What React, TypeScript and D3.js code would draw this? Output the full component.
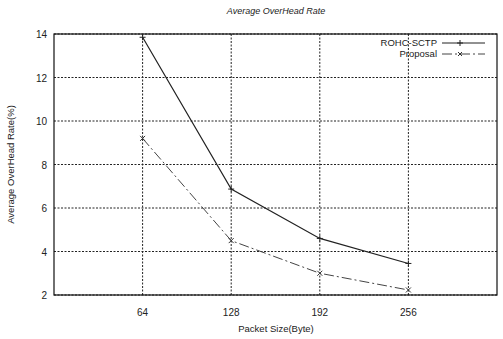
import React from 'react';
import * as d3 from 'd3';

const packetSizes = [64, 128, 192, 256];
const rohcSctp = [13.85, 6.87, 4.6, 3.45];
const proposal = [9.2, 4.5, 3.0, 2.23];
const yTicks = [2, 4, 6, 8, 10, 12, 14];

const width = 503;
const height = 339;
const margin = { top: 34, right: 6, bottom: 44, left: 54 };

export default function App() {
  const x = d3.scaleLinear().domain([0, 320]).range([margin.left, width - margin.right]);
  const y = d3.scaleLinear().domain([2, 14]).range([height - margin.bottom, margin.top]);

  const line = d3
    .line<number>()
    .x((d, i) => x(packetSizes[i]))
    .y((d) => y(d));

  const font = 'Liberation Sans, Arial, sans-serif';

  return (
    <svg
      width={width}
      height={height}
      style={{ position: 'absolute', left: 0, top: 0, background: '#fff' }}
      fontFamily={font}
    >
      <text x={276} y={14} textAnchor="middle" fontSize={9} fontStyle="italic" fill="#222">
        Average OverHead Rate
      </text>

      {/* grid */}
      {yTicks.map((t) => (
        <g key={'y' + t}>
          <line
            x1={x(0)}
            x2={x(320)}
            y1={y(t)}
            y2={y(t)}
            stroke="#222"
            strokeWidth={1}
            strokeDasharray="2,1.5"
          />
          <text x={47} y={y(t) + 4} textAnchor="end" fontSize={10} fill="#222">
            {t}
          </text>
        </g>
      ))}
      {packetSizes.map((t) => (
        <g key={'x' + t}>
          <line
            x1={x(t)}
            x2={x(t)}
            y1={y(2)}
            y2={y(14)}
            stroke="#222"
            strokeWidth={1}
            strokeDasharray="2,1.5"
          />
          <text x={x(t)} y={316} textAnchor="middle" fontSize={10} fill="#222">
            {t}
          </text>
        </g>
      ))}

      {/* frame */}
      <rect
        x={x(0)}
        y={y(14)}
        width={x(320) - x(0)}
        height={y(2) - y(14)}
        fill="none"
        stroke="#111"
        strokeWidth={1.2}
      />

      {/* series */}
      <path d={line(rohcSctp) || ''} fill="none" stroke="#222" strokeWidth={1.2} />
      {rohcSctp.map((v, i) => (
        <path
          key={'r' + i}
          d={`M${x(packetSizes[i]) - 3},${y(v)}h6M${x(packetSizes[i])},${y(v) - 3}v6`}
          stroke="#222"
          strokeWidth={1}
        />
      ))}
      <path
        d={line(proposal) || ''}
        fill="none"
        stroke="#444"
        strokeWidth={1}
        strokeDasharray="10,3,2,3"
      />
      {proposal.map((v, i) => (
        <path
          key={'p' + i}
          d={`M${x(packetSizes[i]) - 2.5},${y(v) - 2.5}l5,5M${x(packetSizes[i]) - 2.5},${y(v) + 2.5}l5,-5`}
          stroke="#333"
          strokeWidth={1}
        />
      ))}

      {/* legend */}
      <text x={437} y={46} textAnchor="end" fontSize={9.5} fill="#222">
        ROHC-SCTP
      </text>
      <line x1={442} x2={485} y1={43} y2={43} stroke="#222" strokeWidth={1} />
      <path d="M460,40v6M457,43h6" stroke="#222" strokeWidth={1} />
      <text x={437} y={57} textAnchor="end" fontSize={9.5} fill="#222">
        Proposal
      </text>
      <line x1={442} x2={485} y1={54} y2={54} stroke="#444" strokeWidth={1} strokeDasharray="10,3,2,3" />
      <path d="M458,52l4,4M458,56l4,-4" stroke="#333" strokeWidth={1} />

      {/* axis labels */}
      <text x={276} y={332} textAnchor="middle" fontSize={9.5} fill="#222">
        Packet Size(Byte)
      </text>
      <text
        transform={`translate(14,${(y(2) + y(14)) / 2}) rotate(-90)`}
        textAnchor="middle"
        fontSize={9.5}
        fill="#222"
      >
        Average OverHead Rate(%)
      </text>
    </svg>
  );
}
